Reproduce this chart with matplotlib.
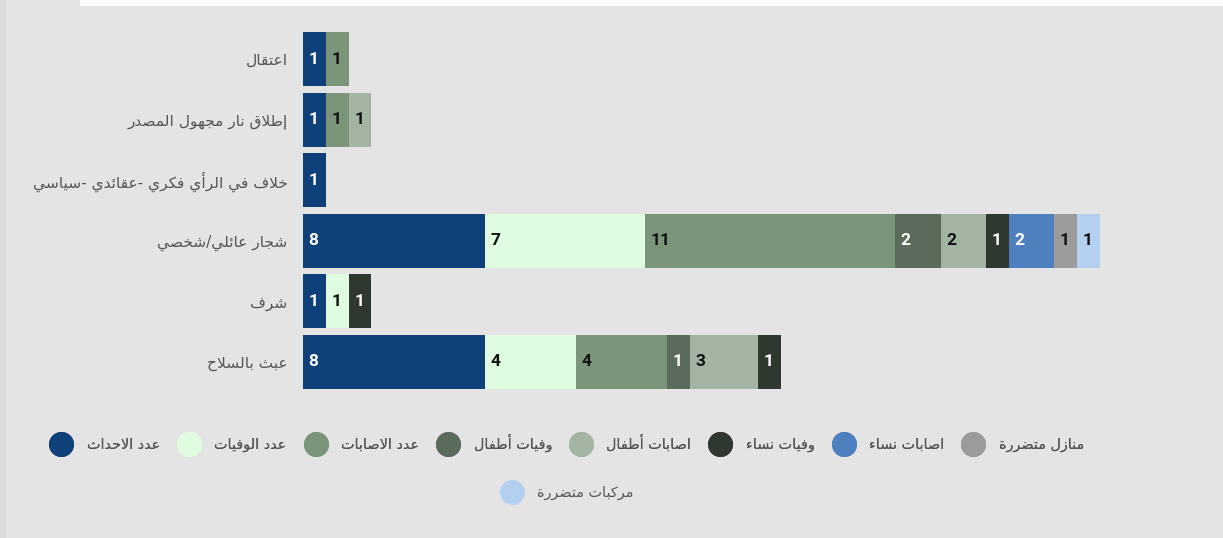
import matplotlib
matplotlib.use("Agg")
import matplotlib.pyplot as plt
from matplotlib.lines import Line2D
from matplotlib.patches import Rectangle
import numpy as np

# --- minimal Arabic shaping (matplotlib has no RTL / joining support) ---
TWO = {'آ': 0xFE81, 'أ': 0xFE83, 'ؤ': 0xFE85, 'إ': 0xFE87, 'ا': 0xFE8D, 'ة': 0xFE93,
       'د': 0xFEA9, 'ذ': 0xFEAB, 'ر': 0xFEAD, 'ز': 0xFEAF, 'و': 0xFEED, 'ى': 0xFEEF}
FOUR = {'ئ': 0xFE89, 'ب': 0xFE8F, 'ت': 0xFE95, 'ث': 0xFE99, 'ج': 0xFE9D, 'ح': 0xFEA1,
        'خ': 0xFEA5, 'س': 0xFEB1, 'ش': 0xFEB5, 'ص': 0xFEB9, 'ض': 0xFEBD, 'ط': 0xFEC1,
        'ظ': 0xFEC5, 'ع': 0xFEC9, 'غ': 0xFECD, 'ف': 0xFED1, 'ق': 0xFED5, 'ك': 0xFED9,
        'ل': 0xFEDD, 'م': 0xFEE1, 'ن': 0xFEE5, 'ه': 0xFEE9, 'ي': 0xFEF1}
LAM_ALEF = {'آ': 0xFEF5, 'أ': 0xFEF7, 'إ': 0xFEF9, 'ا': 0xFEFB}


def ar(s):
    out = []
    i = 0
    n = len(s)
    while i < n:
        c = s[i]
        prev = i > 0 and s[i - 1] in FOUR
        if c == 'ل' and i + 1 < n and s[i + 1] in LAM_ALEF:
            out.append(chr(LAM_ALEF[s[i + 1]] + (1 if prev else 0)))
            i += 2
            continue
        if c in FOUR:
            nxt = i + 1 < n and (s[i + 1] in FOUR or s[i + 1] in TWO)
            form = {(False, False): 0, (True, False): 1, (False, True): 2, (True, True): 3}[(prev, nxt)]
            out.append(chr(FOUR[c] + form))
        elif c in TWO:
            out.append(chr(TWO[c] + (1 if prev else 0)))
        elif c == 'ء':
            out.append(chr(0xFE80))
        else:
            out.append(c)
        i += 1
    return ''.join(out)[::-1]


categories = ['اعتقال', 'إطلاق نار مجهول المصدر', 'خلاف في الرأي فكري -عقائدي -سياسي',
              'شجار عائلي/شخصي', 'شرف', 'عبث بالسلاح']

series_names = ['عدد الاحداث', 'عدد الوفيات', 'عدد الاصابات', 'وفيات أطفال', 'اصابات أطفال',
                'وفيات نساء', 'اصابات نساء', 'منازل متضررة', 'مركبات متضررة']

events = [1, 1, 1, 8, 1, 8]
deaths = [0, 0, 0, 7, 1, 4]
injuries = [1, 1, 0, 11, 0, 4]
child_deaths = [0, 0, 0, 2, 0, 1]
child_injuries = [0, 1, 0, 2, 0, 3]
women_deaths = [0, 0, 0, 1, 1, 1]
women_injuries = [0, 0, 0, 2, 0, 0]
houses = [0, 0, 0, 1, 0, 0]
vehicles = [0, 0, 0, 1, 0, 0]

series = [events, deaths, injuries, child_deaths, child_injuries,
          women_deaths, women_injuries, houses, vehicles]

colors = ['#0f4079', '#e0fce0', '#7b957b', '#5b6b5b', '#a3b4a3',
          '#2f382f', '#4e80bf', '#9b9b9b', '#b4d0f1']
label_colors = ['white', '#111111', '#111111', 'white', '#111111',
                'white', 'white', '#111111', '#111111']

BG = '#e4e4e4'
fig = plt.figure(figsize=(12.23, 5.38), dpi=100, facecolor=BG)
fig.add_artist(Rectangle((80 / 1223, 1 - 6 / 538), 1, 6 / 538, transform=fig.transFigure,
                         facecolor='white', edgecolor='none'))
fig.add_artist(Rectangle((0, 0), 6 / 1223, 1, transform=fig.transFigure,
                         facecolor='#dadada', edgecolor='none'))

ax = fig.add_axes([303 / 1223, 1 - 392.3 / 538, 808 / 1223, 363.6 / 538])
ax.set_facecolor(BG)

y = np.arange(len(categories))
left = np.zeros(len(categories))
for vals, col, tcol in zip(series, colors, label_colors):
    vals = np.array(vals, dtype=float)
    ax.barh(y, vals, left=left, height=0.89, color=col, edgecolor='none')
    for yi, (l, v) in enumerate(zip(left, vals)):
        if v > 0:
            ax.annotate(str(int(v)), (l, yi), xytext=(4, 0), textcoords='offset points',
                        ha='left', va='center', color=tcol, fontsize=12.5,
                        fontweight='bold', family='Roboto')
    left += vals

ax.set_xlim(0, 808 / 22.77)
ax.set_ylim(len(categories) - 0.5, -0.5)
ax.set_yticks(y)
ax.set_yticklabels([ar(c) for c in categories], family='DejaVu Sans', fontsize=11.1, color='#555555')
ax.tick_params(axis='y', length=0, pad=11)
ax.set_xticks([])
for sp in ax.spines.values():
    sp.set_visible(False)

handles = [Line2D([], [], marker='o', linestyle='', markersize=18, markerfacecolor=c,
                  markeredgecolor='none') for c in colors]
labels = [ar(s) for s in series_names]

leg_kw = dict(loc='center', frameon=False, handlelength=1.0, handletextpad=1.27,
              columnspacing=1.5, prop={'family': 'DejaVu Sans', 'size': 10.4},
              labelcolor='#555555')
leg1 = fig.legend(handles[:8], labels[:8], bbox_to_anchor=(569 / 1223, 1 - 443 / 538),
                  ncol=8, **leg_kw)
leg2 = fig.legend(handles[8:], labels[8:], bbox_to_anchor=(569 / 1223, 1 - 493 / 538),
                  ncol=1, **leg_kw)
fig.add_artist(leg1)

fig.savefig('out.png', dpi=100, facecolor=BG)
